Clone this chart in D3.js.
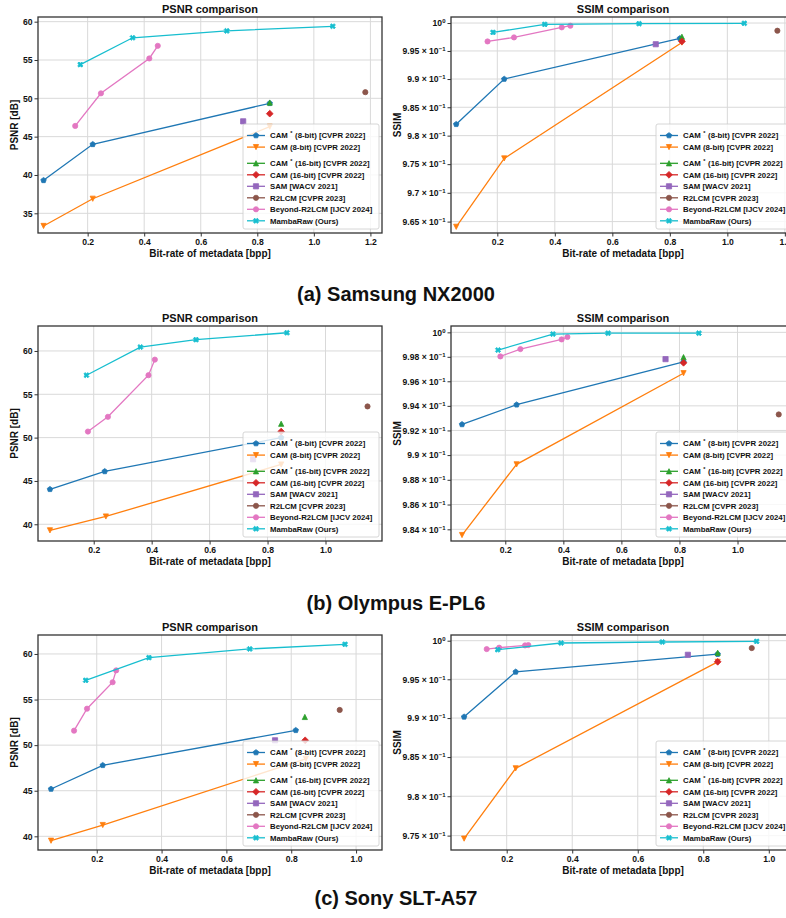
<!DOCTYPE html>
<html>
<head>
<meta charset="utf-8">
<script src="https://cdn.jsdelivr.net/npm/d3@7"></script>
<style>
    body { margin: 0; background: #fff; }
    svg { display: block; font-family: "Liberation Sans", Arial, sans-serif; font-weight: bold; }
</style>
</head>
<body>
<div id="figure"></div>
<script>
const seriesNames = [
    'CAM* (8-bit) [CVPR 2022]',
    'CAM (8-bit) [CVPR 2022]',
    'CAM* (16-bit) [CVPR 2022]',
    'CAM (16-bit) [CVPR 2022]',
    'SAM [WACV 2021]',
    'R2LCM [CVPR 2023]',
    'Beyond-R2LCM [IJCV 2024]',
    'MambaRaw (Ours)'
];
const seriesColors = ['#1f77b4', '#ff7f0e', '#2ca02c', '#d62728', '#9467bd', '#8c564b', '#e377c2', '#17becf'];
const seriesMarkers = ['pentagon', 'triangleDown', 'triangleUp', 'diamond', 'square', 'circle', 'circle', 'xFilled'];

// [bpp, value] pairs, one list per series, in legend order
const samsungPsnr = [
    [[0.044, 39.3], [0.218, 44.0], [0.844, 49.35]],
    [[0.044, 33.35], [0.218, 36.9], [0.844, 46.3]],
    [[0.844, 49.45]],
    [[0.844, 48.0]],
    [[0.75, 47.0]],
    [[1.182, 50.8]],
    [[0.156, 46.4], [0.247, 50.65], [0.418, 55.2], [0.448, 56.85]],
    [[0.174, 54.4], [0.359, 57.9], [0.692, 58.8], [1.067, 59.4]]
];
const samsungSsim = [
    [[0.057, 0.9820], [0.224, 0.9900], [0.835, 0.99724]],
    [[0.057, 0.9641], [0.224, 0.9760], [0.842, 0.9965]],
    [[0.842, 0.99754]],
    [[0.842, 0.9967]],
    [[0.751, 0.9962]],
    [[1.174, 0.99862]],
    [[0.166, 0.9967], [0.258, 0.99742], [0.424, 0.99922], [0.454, 0.99952]],
    [[0.185, 0.99832], [0.365, 0.99976], [0.693, 0.99988], [1.059, 0.99995]]
];
const olympusPsnr = [
    [[0.049, 44.04], [0.238, 46.1], [0.847, 50.0]],
    [[0.049, 39.3], [0.242, 40.9], [0.847, 46.9]],
    [[0.847, 51.6]],
    [[0.847, 50.7]],
    [[0.75, 47.5]],
    [[1.145, 53.6]],
    [[0.18, 50.7], [0.249, 52.4], [0.389, 57.2], [0.411, 59.0]],
    [[0.175, 57.2], [0.361, 60.45], [0.553, 61.3], [0.867, 62.1]]
];
const olympusSsim = [
    [[0.051, 0.99249], [0.239, 0.99409], [0.814, 0.99759]],
    [[0.051, 0.98354], [0.239, 0.98925], [0.814, 0.99666]],
    [[0.814, 0.99797]],
    [[0.814, 0.99751]],
    [[0.752, 0.99781]],
    [[1.142, 0.9933]],
    [[0.183, 0.99803], [0.252, 0.99863], [0.394, 0.99942], [0.414, 0.99962]],
    [[0.175, 0.99855], [0.364, 0.99986], [0.554, 0.99993], [0.867, 0.99993]]
];
const sonyPsnr = [
    [[0.059, 45.19], [0.2185, 47.79], [0.814, 51.63]],
    [[0.059, 39.52], [0.2185, 41.24], [0.845, 48.5]],
    [[0.842, 53.09]],
    [[0.843, 50.53]],
    [[0.75, 50.53]],
    [[0.9495, 53.86]],
    [[0.13, 51.59], [0.17, 54.0], [0.249, 56.9], [0.26, 58.2]],
    [[0.166, 57.11], [0.361, 59.6], [0.672, 60.55], [0.966, 61.06]]
];
const sonySsim = [
    [[0.07, 0.99016], [0.2275, 0.99596], [0.844, 0.99826]],
    [[0.07, 0.97462], [0.2275, 0.98356], [0.844, 0.99726]],
    [[0.844, 0.99843]],
    [[0.844, 0.99726]],
    [[0.753, 0.99817]],
    [[0.948, 0.99904]],
    [[0.139, 0.99891], [0.177, 0.99909], [0.256, 0.99939], [0.266, 0.99943]],
    [[0.1725, 0.99883], [0.366, 0.9997], [0.675, 0.99983], [0.963, 0.99991]]
];

const bppTicks = [0.2, 0.4, 0.6, 0.8, 1.0, 1.2];
const psnrTicks = [35, 40, 45, 50, 55, 60];
const ssimTicksSamsung = [0.965, 0.97, 0.975, 0.98, 0.985, 0.99, 0.995, 1];
const ssimTicksOlympus = [0.984, 0.986, 0.988, 0.99, 0.992, 0.994, 0.996, 0.998, 1];
const ssimTicksSony = [0.975, 0.98, 0.985, 0.99, 0.995, 1];
const captions = ['(a) Samsung NX2000', '(b) Olympus E-PL6', '(c) Sony SLT-A57'];

function markerPath(type, ms) {
    const r = ms / 2;
    const poly = pts => 'M' + pts.map(p => p.join(',')).join('L') + 'Z';
    switch (type) {
        case 'circle':
            return d3.symbol(d3.symbolCircle, Math.PI * r * r)();
        case 'square':
            return poly([[-r, -r], [r, -r], [r, r], [-r, r]]);
        case 'triangleUp':
            return poly([[0, -r], [r, r], [-r, r]]);
        case 'triangleDown':
            return poly([[0, r], [r, -r], [-r, -r]]);
        case 'diamond': {
            const d = r * 1.3;
            return poly([[0, -d], [d, 0], [0, d], [-d, 0]]);
        }
        case 'pentagon':
            return poly(d3.range(5).map(i => {
                const a = -Math.PI / 2 + i * 2 * Math.PI / 5;
                return [r * 1.1 * Math.cos(a), r * 1.1 * Math.sin(a)];
            }));
        case 'xFilled':
            return poly([[-1, -2], [0, -1], [1, -2], [2, -1], [1, 0], [2, 1], [1, 2], [0, 1], [-1, 2], [-2, 1], [-1, 0], [-2, -1]]
                .map(p => [p[0] * ms / 4, p[1] * ms / 4]));
    }
}

function comparisonChart() {

    let width = 344,
        height = 216,
        title = '',
        xAxisLabel = 'Bit-rate of metadata [bpp]',
        yAxisLabel = '',
        yLabelOffset = 20,
        xDomain = [0, 1],
        yDomain = [0, 1],
        xTicks = bppTicks,
        yTicks = [],
        logY = false,
        data = [];

    const markerSize = 5.2;

    function ssimLabel(textSel, d) {
        textSel.text(null);
        if (d === 1) {
            textSel.append('tspan').text('10');
            textSel.append('tspan').attr('dy', '-0.5em').attr('font-size', 6).text('0');
        } else {
            textSel.append('tspan').text(`${+(d * 10).toFixed(3)} \u00d7 10`);
            textSel.append('tspan').attr('dy', '-0.5em').attr('font-size', 6).text('\u22121');
        }
    }

    function chart(selection) {
        selection.each(function () {
            const g = d3.select(this);
            const clipId = 'clip' + Math.random().toString(36).slice(2);

            const xScale = d3.scaleLinear().domain(xDomain).range([0, width]);
            const yScale = (logY ? d3.scaleLog() : d3.scaleLinear())
                .domain(yDomain)
                .range([height, 0]);

            const xt = xTicks.filter(v => v >= xDomain[0] && v <= xDomain[1]);
            const yt = yTicks.filter(v => v >= yDomain[0] && v <= yDomain[1]);

            g.append('defs').append('clipPath').attr('id', clipId)
                .append('rect').attr('width', width).attr('height', height);

            // grid
            const grid = g.append('g').attr('class', 'grid');
            grid.selectAll('.gx').data(xt).enter().append('line')
                .attr('x1', d => xScale(d)).attr('x2', d => xScale(d))
                .attr('y1', 0).attr('y2', height);
            grid.selectAll('.gy').data(yt).enter().append('line')
                .attr('x1', 0).attr('x2', width)
                .attr('y1', d => yScale(d)).attr('y2', d => yScale(d));
            grid.selectAll('line').attr('stroke', '#d9d9d9').attr('stroke-width', 1);

            // series
            const plot = g.append('g').attr('clip-path', `url(#${clipId})`);
            const line = d3.line().x(d => xScale(d[0])).y(d => yScale(d[1]));

            data.forEach((points, i) => {
                const color = seriesColors[i];
                if (points.length > 1) {
                    plot.append('path')
                        .attr('d', line(points))
                        .attr('fill', 'none')
                        .attr('stroke', color)
                        .attr('stroke-width', 1.3);
                }
                plot.append('g').selectAll('path')
                    .data(points)
                    .enter().append('path')
                    .attr('transform', d => `translate(${xScale(d[0])},${yScale(d[1])})`)
                    .attr('d', markerPath(seriesMarkers[i], markerSize))
                    .attr('fill', color)
                    .attr('stroke', color)
                    .attr('stroke-width', 0.8);
            });

            // axes
            const xAxis = d3.axisBottom(xScale)
                .tickValues(xt)
                .tickFormat(d3.format('.1f'))
                .tickSizeInner(3.5)
                .tickSizeOuter(0)
                .tickPadding(2);

            g.append('g')
                .attr('class', 'x axis')
                .attr('transform', `translate(0,${height})`)
                .call(xAxis);

            const yAxis = d3.axisLeft(yScale)
                .tickValues(yt)
                .tickFormat(d => logY ? '' : d)
                .tickSizeInner(3.5)
                .tickSizeOuter(0)
                .tickPadding(2);

            const gYAxis = g.append('g')
                .attr('class', 'y axis')
                .call(yAxis);

            if (logY) {
                gYAxis.selectAll('.tick text').each(function (d) {
                    ssimLabel(d3.select(this), d);
                });
            }

            g.selectAll('.axis .domain').remove();
            g.selectAll('.axis .tick line').attr('stroke', '#333').attr('stroke-width', 1);
            g.selectAll('.axis .tick text')
                .attr('fill', '#111')
                .attr('font-size', 8.6)
                .attr('font-family', '"Liberation Sans", Arial, sans-serif')
                .attr('font-weight', 'bold');

            // spines
            g.append('rect')
                .attr('width', width)
                .attr('height', height)
                .attr('fill', 'none')
                .attr('stroke', '#333')
                .attr('stroke-width', 1.3);

            g.append('text')
                .attr('x', width / 2)
                .attr('y', -4)
                .attr('text-anchor', 'middle')
                .attr('font-size', 11)
                .attr('fill', '#111')
                .text(title);

            g.append('text')
                .attr('x', width / 2)
                .attr('y', height + 24)
                .attr('text-anchor', 'middle')
                .attr('font-size', 10)
                .attr('fill', '#111')
                .text(xAxisLabel);

            g.append('text')
                .attr('transform', `translate(${-yLabelOffset},${height / 2}) rotate(-90)`)
                .attr('text-anchor', 'middle')
                .attr('font-size', 10)
                .attr('fill', '#111')
                .text(yAxisLabel);

            // legend, lower right
            const legendWidth = 136,
                legendHeight = 105,
                rowOffsets = [11.5, 23.1, 39.3, 50.8, 62.3, 73.8, 85.3, 96.8];

            const legend = g.append('g')
                .attr('transform', `translate(${width - 3 - legendWidth},${height - 4 - legendHeight})`);

            legend.append('rect')
                .attr('width', legendWidth)
                .attr('height', legendHeight)
                .attr('rx', 2)
                .attr('fill', '#fff')
                .attr('fill-opacity', 0.8)
                .attr('stroke', '#cccccc')
                .attr('stroke-width', 0.8);

            seriesNames.forEach((name, i) => {
                const row = legend.append('g').attr('transform', `translate(0,${rowOffsets[i]})`);
                row.append('line')
                    .attr('x1', 4).attr('x2', 22)
                    .attr('stroke', seriesColors[i])
                    .attr('stroke-width', 1.3);
                row.append('path')
                    .attr('transform', 'translate(13,0)')
                    .attr('d', markerPath(seriesMarkers[i], markerSize))
                    .attr('fill', seriesColors[i])
                    .attr('stroke', seriesColors[i])
                    .attr('stroke-width', 0.8);

                const label = row.append('text')
                    .attr('x', 27)
                    .attr('y', 2.8)
                    .attr('font-size', 7.8)
                    .attr('fill', '#111');
                if (name.includes('*')) {
                    const parts = name.split('*');
                    label.append('tspan').text(parts[0]);
                    label.append('tspan').attr('dx', 2.5).attr('dy', -3.5).attr('font-size', 5.5).text('*');
                    label.append('tspan').attr('dx', 0.5).attr('dy', 3.5).text(parts[1]);
                } else {
                    label.text(name);
                }
            });
        });
    }

    chart.width = function (value) {
        if (!arguments.length) return width;
        width = value;
        return chart;
    };

    chart.height = function (value) {
        if (!arguments.length) return height;
        height = value;
        return chart;
    };

    chart.title = function (value) {
        if (!arguments.length) return title;
        title = value;
        return chart;
    };

    chart.yAxisLabel = function (value, offset) {
        if (!arguments.length) return yAxisLabel;
        yAxisLabel = value;
        if (offset != null) yLabelOffset = offset;
        return chart;
    };

    chart.xDomain = function (value) {
        if (!arguments.length) return xDomain;
        xDomain = value;
        return chart;
    };

    chart.yDomain = function (value) {
        if (!arguments.length) return yDomain;
        yDomain = value;
        return chart;
    };

    chart.yTicks = function (value) {
        if (!arguments.length) return yTicks;
        yTicks = value;
        return chart;
    };

    chart.logY = function (value) {
        if (!arguments.length) return logY;
        logY = value;
        return chart;
    };

    chart.data = function (value) {
        if (!arguments.length) return data;
        data = value;
        return chart;
    };

    return chart;
}

const svg = d3.select('#figure').append('svg')
    .attr('width', 786)
    .attr('height', 918);

svg.append('rect').attr('width', 786).attr('height', 918).attr('fill', '#fff');

const rows = [
    {
        top: 17, height: 216, captionY: 301,
        psnr: samsungPsnr, psnrX: [0.0244, 1.241], psnrY: [32.43, 60.61],
        ssim: samsungSsim, ssimX: [0.0389, 1.2353], ssimY: [0.96303, 1.00108], ssimTicks: ssimTicksSamsung
    },
    {
        top: 326, height: 215, captionY: 610,
        psnr: olympusPsnr, psnrX: [0.0077, 1.195], psnrY: [38.07, 62.88],
        ssim: olympusSsim, ssimX: [0.013, 1.198], ssimY: [0.98306, 1.00052], ssimTicks: ssimTicksOlympus
    },
    {
        top: 635, height: 215, captionY: 905,
        psnr: sonyPsnr, psnrX: [0.0188, 1.080], psnrY: [38.5, 62.08],
        ssim: sonySsim, ssimX: [0.030, 1.080], ssimY: [0.97318, 1.00074], ssimTicks: ssimTicksSony
    }
];

rows.forEach((row, r) => {
    const psnrChart = comparisonChart()
        .height(row.height)
        .title('PSNR comparison')
        .yAxisLabel('PSNR [dB]', 20)
        .xDomain(row.psnrX)
        .yDomain(row.psnrY)
        .yTicks(psnrTicks)
        .data(row.psnr);

    svg.append('g')
        .attr('transform', `translate(38,${row.top})`)
        .call(psnrChart);

    const ssimChart = comparisonChart()
        .height(row.height)
        .title('SSIM comparison')
        .yAxisLabel('SSIM', 50)
        .xDomain(row.ssimX)
        .yDomain(row.ssimY)
        .yTicks(row.ssimTicks)
        .logY(true)
        .data(row.ssim);

    svg.append('g')
        .attr('transform', `translate(451,${row.top})`)
        .call(ssimChart);

    svg.append('text')
        .attr('x', 396)
        .attr('y', row.captionY)
        .attr('text-anchor', 'middle')
        .attr('font-size', 20)
        .attr('fill', '#111')
        .text(captions[r]);
});
</script>
</body>
</html>
